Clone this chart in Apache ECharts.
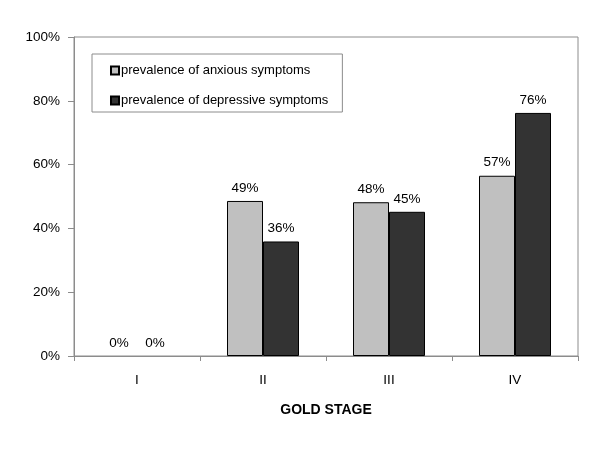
<!DOCTYPE html>
<html><head><meta charset="utf-8">
<script src="https://cdn.jsdelivr.net/npm/echarts@6/dist/echarts.min.js"></script>
<style>html,body{margin:0;padding:0;background:#fff}#c{width:600px;height:450px}</style>
</head><body><div id="c"></div>
<script>
const categories = ['I', 'II', 'III', 'IV'];
const anxious = [0, 48.6, 48.2, 56.5];
const depressive = [0, 35.9, 45.2, 76.2];
const seriesNames = ['prevalence of anxious symptoms', 'prevalence of depressive symptoms'];
const yTicks = [0, 20, 40, 60, 80, 100];

const font = 'Liberation Sans, Arial, sans-serif';
const chart = echarts.init(document.getElementById('c'), null, {renderer: 'canvas'});
const labelCfg = {
  show: true, position: 'top', distance: 6, color: '#000', fontFamily: font, fontSize: 13.5,
  formatter: p => Math.round(p.value) + '%'
};
const toData = arr => arr.map(v => v === 0 ? {value: v, itemStyle: {borderWidth: 0}} : v);
chart.setOption({
  animation: false,
  backgroundColor: '#fff',
  grid: {left: 74, right: 22, top: 37, bottom: 94, show: true, borderColor: '#8c8c8c', borderWidth: 1, containLabel: false},
  legend: {
    orient: 'vertical', left: 92, top: 54,
    padding: [10, 14, 5, 18], itemGap: 17, itemWidth: 8, itemHeight: 8, icon: 'rect',
    borderColor: '#8c8c8c', borderWidth: 1, backgroundColor: '#fff',
    textStyle: {fontFamily: font, fontSize: 13, color: '#000', padding: [0, 0, 0, -3]},
    data: seriesNames
  },
  xAxis: {
    type: 'category', data: categories,
    name: 'GOLD STAGE', nameLocation: 'middle', nameGap: 47,
    nameTextStyle: {fontFamily: font, fontSize: 14, fontWeight: 'bold', color: '#000'},
    axisLine: {lineStyle: {color: '#8c8c8c'}},
    axisTick: {show: true, length: 5, lineStyle: {color: '#8c8c8c'}},
    axisLabel: {fontFamily: font, fontSize: 13.5, color: '#000', margin: 17}
  },
  yAxis: {
    type: 'value', min: 0, max: 100, interval: 20,
    axisLine: {show: true, lineStyle: {color: '#8c8c8c'}},
    axisTick: {show: true, length: 6, lineStyle: {color: '#8c8c8c'}},
    splitLine: {show: false},
    axisLabel: {fontFamily: font, fontSize: 13.5, color: '#000', margin: 14,
      formatter: v => yTicks.includes(v) ? v + '%' : ''}
  },
  series: [
    {name: seriesNames[0], type: 'bar', data: toData(anxious), barWidth: 36, barGap: '0%',
     itemStyle: {color: '#c0c0c0', borderColor: '#000', borderWidth: 1}, label: labelCfg},
    {name: seriesNames[1], type: 'bar', data: toData(depressive), barWidth: 36,
     itemStyle: {color: '#333333', borderColor: '#000', borderWidth: 1}, label: labelCfg}
  ]
});
</script></body></html>
